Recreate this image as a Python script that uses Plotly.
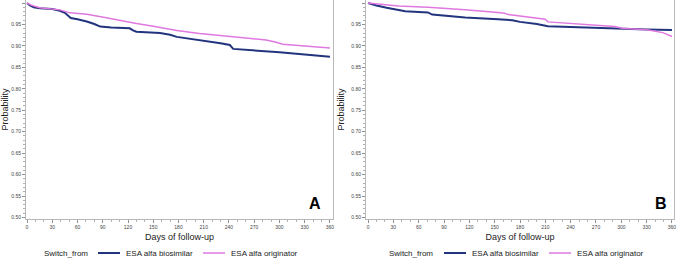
import plotly.graph_objects as go

# Panel A
a_bio_days = [0, 3, 8, 15, 30, 39, 45, 49, 52, 60, 71, 80, 87, 100, 122, 126, 130, 158, 170, 178, 200, 214, 230, 241, 245, 300, 360]
a_bio_prob = [1.000, 0.995, 0.990, 0.988, 0.986, 0.982, 0.977, 0.969, 0.965, 0.962, 0.957, 0.951, 0.945, 0.943, 0.941, 0.936, 0.933, 0.930, 0.926, 0.921, 0.915, 0.910, 0.906, 0.902, 0.893, 0.885, 0.875]
a_ori_days = [0, 5, 15, 39, 51, 71, 91, 110, 130, 150, 178, 205, 225, 245, 265, 284, 295, 304, 330, 360]
a_ori_prob = [1.000, 0.995, 0.989, 0.984, 0.977, 0.974, 0.967, 0.959, 0.952, 0.946, 0.936, 0.929, 0.925, 0.922, 0.918, 0.914, 0.909, 0.904, 0.900, 0.895]

# Panel B
b_bio_days = [0, 10, 22, 32, 44, 60, 71, 76, 100, 115, 154, 171, 180, 200, 213, 250, 292, 330, 360]
b_bio_prob = [1.000, 0.994, 0.989, 0.986, 0.981, 0.979, 0.978, 0.973, 0.969, 0.966, 0.962, 0.960, 0.956, 0.951, 0.946, 0.943, 0.940, 0.938, 0.937]
b_ori_days = [0, 20, 36, 71, 100, 115, 154, 162, 166, 180, 200, 210, 213, 253, 292, 301, 332, 349, 360]
b_ori_prob = [1.000, 0.996, 0.993, 0.990, 0.987, 0.984, 0.978, 0.976, 0.973, 0.969, 0.965, 0.962, 0.956, 0.951, 0.945, 0.941, 0.937, 0.931, 0.922]

x_ticks = list(range(0, 361, 30))
y_ticks = [0.50, 0.55, 0.60, 0.65, 0.70, 0.75, 0.80, 0.85, 0.90, 0.95, 1.00]
series_names = ["ESA alfa biosimilar", "ESA alfa originator"]
legend_title = "Switch_from"
panel_labels = ["A", "B"]

NAVY = "#22347e"
PINK = "#e078e0"
FONT = "Liberation Sans, Arial"

fig = go.Figure()
fig.add_trace(go.Scatter(x=a_bio_days, y=a_bio_prob, mode="lines", name=series_names[0], showlegend=False,
                         line=dict(color=NAVY, width=2), xaxis="x", yaxis="y"))
fig.add_trace(go.Scatter(x=a_ori_days, y=a_ori_prob, mode="lines", name=series_names[1], showlegend=False,
                         line=dict(color=PINK, width=1.5), xaxis="x", yaxis="y"))
fig.add_trace(go.Scatter(x=b_bio_days, y=b_bio_prob, mode="lines", name=series_names[0], showlegend=False,
                         line=dict(color=NAVY, width=2), xaxis="x2", yaxis="y2"))
fig.add_trace(go.Scatter(x=b_ori_days, y=b_ori_prob, mode="lines", name=series_names[1], showlegend=False,
                         line=dict(color=PINK, width=1.5), xaxis="x2", yaxis="y2"))

W, H = 677, 259
def xd(a, b):
    return [a / W, b / W]
ydom = [1 - 219 / H, 1 - 0 / H]

axis_common = dict(showgrid=False, zeroline=False, showline=True, mirror=True, automargin=False,
                   linecolor="#b8b8b8", linewidth=1, ticks="outside", ticklen=3,
                   tickcolor="#909090", tickfont=dict(family=FONT, size=5, color="#444"))

xcommon = dict(axis_common, tickvals=x_ticks, title=dict(text="Days of follow-up", standoff=4,
               font=dict(family=FONT, size=9, color="#222")))
xcommon["minor"] = dict(ticks="outside", ticklen=2, tickcolor="#b0b0b0", dtick=10, tick0=0)
ycommon = dict(axis_common, tickvals=y_ticks, tickformat=".2f", range=[0.4965, 1.007],
               title=dict(text="Probability", standoff=5,
                          font=dict(family=FONT, size=9, color="#222")))
ycommon["minor"] = dict(ticks="outside", ticklen=2, tickcolor="#b0b0b0", dtick=0.01, tick0=0.5)

annotations = [
    dict(text=panel_labels[0], x=342, y=0.508, xref="x", yref="y", showarrow=False,
         xanchor="center", yanchor="bottom", font=dict(family=FONT, size=16, color="black", weight="bold")),
    dict(text=panel_labels[1], x=347, y=0.508, xref="x2", yref="y2", showarrow=False,
         xanchor="center", yanchor="bottom", font=dict(family=FONT, size=16, color="black", weight="bold")),
]
shapes = []
leg_y = (H - 253) / H
# legend layout per panel: (title_x, line1_x0, line1_x1, text1_x, line2_x0, line2_x1, text2_x)
legend_pos = [(42, 98, 120, 124, 203, 225, 229), (387, 444, 466, 470, 549, 571, 575)]
for (tx, l1a, l1b, t1, l2a, l2b, t2) in legend_pos:
    annotations.append(dict(text=legend_title, x=tx / W, y=leg_y, xref="paper", yref="paper", showarrow=False,
                            xanchor="left", yanchor="middle", font=dict(family=FONT, size=8, color="#222")))
    annotations.append(dict(text=series_names[0], x=t1 / W, y=leg_y, xref="paper", yref="paper", showarrow=False,
                            xanchor="left", yanchor="middle", font=dict(family=FONT, size=8, color="#222")))
    annotations.append(dict(text=series_names[1], x=t2 / W, y=leg_y, xref="paper", yref="paper", showarrow=False,
                            xanchor="left", yanchor="middle", font=dict(family=FONT, size=8, color="#222")))
    shapes.append(dict(type="line", xref="paper", yref="paper", x0=l1a / W, x1=l1b / W, y0=leg_y, y1=leg_y,
                       line=dict(color=NAVY, width=2)))
    shapes.append(dict(type="line", xref="paper", yref="paper", x0=l2a / W, x1=l2b / W, y0=leg_y, y1=leg_y,
                       line=dict(color=PINK, width=1.5)))

fig.update_layout(
    width=W, height=H, margin=dict(l=0, r=0, t=0, b=0),
    plot_bgcolor="white", paper_bgcolor="white", showlegend=False,
    xaxis=dict(xcommon, domain=xd(26, 333), range=[-1.2, 363.6], anchor="y"),
    yaxis=dict(ycommon, domain=ydom, anchor="x"),
    xaxis2=dict(xcommon, domain=xd(366, 674), range=[-2.4, 362.4], anchor="y2"),
    yaxis2=dict(ycommon, domain=ydom, anchor="x2"),
    annotations=annotations, shapes=shapes,
)

fig.write_html("out.html", config={"displayModeBar": False},
               post_script="document.body.style.margin='0';document.body.style.overflow='hidden';")
